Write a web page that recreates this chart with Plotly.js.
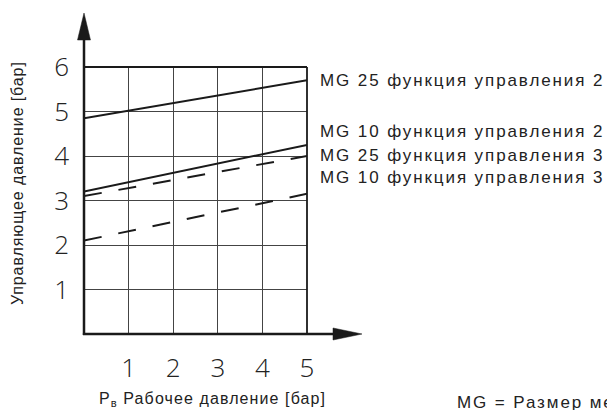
<!DOCTYPE html>
<html>
<head>
<meta charset="utf-8">
<script src="https://cdn.plot.ly/plotly-3.0.1.min.js"></script>
<style>
  html, body { margin: 0; padding: 0; background: #ffffff; }
  #chart { width: 607px; height: 410px; }
</style>
</head>
<body>
<div id="chart"></div>
<script>
// Working pressure (x) at the two ends of each characteristic line
const workPressure = [0, 5];

// Control pressure (y) for each valve size / control function
const mg25f2 = [4.85, 5.7];
const mg10f2 = [3.2, 4.25];
const mg25f3 = [3.1, 4.0];
const mg10f3 = [2.1, 3.15];

const seriesNames = [
  'MG 25 функция управления 2',
  'MG 10 функция управления 2',
  'MG 25 функция управления 3',
  'MG 10 функция управления 3'
];

const xTickVals = [1, 2, 3, 4, 5];
const xTickText = ['1', '2', '3', '4', '5'];
const yTickVals = [1, 2, 3, 4, 5, 6];
const yTickText = ['1', '2', '3', '4', '5', '6'];

const xTitle = 'P<sub>в</sub> Рабочее давление [бар]';
const yTitle = 'Управляющее давление [бар]';
const footNote = 'MG = Размер мембраны';

const ink = '#1a1a1a';
const dashed = '18px,17px';

const traces = [
  { x: workPressure, y: mg25f2, dash: 'solid' },
  { x: workPressure, y: mg10f2, dash: 'solid' },
  { x: workPressure, y: mg25f3, dash: dashed },
  { x: workPressure, y: mg10f3, dash: dashed }
].map((s, i) => ({
  type: 'scatter',
  mode: 'lines',
  name: seriesNames[i],
  x: s.x,
  y: s.y,
  line: { color: ink, width: 2, dash: s.dash },
  hoverinfo: 'skip'
}));

// wide-set sans-serif for the captions
const spaced = (t, px) => '<span style="letter-spacing:' + px + 'px">' + t + '</span>';

const labelFont = { family: 'Liberation Sans, Arial, sans-serif', size: 17, color: '#222' };
const titleFont = { family: 'Liberation Sans, Arial, sans-serif', size: 16, color: '#222' };
const tickFont = { family: 'Open Sans, sans-serif', size: 26, color: '#222', weight: 300 };

// series labels to the right of the grid, one per line
const labelY = [0.9513, 0.7566, 0.6704, 0.5843];
const annotations = seriesNames.map((t, i) => ({
  text: spaced(t, 1.9), xref: 'paper', yref: 'paper', x: 1.049, y: labelY[i],
  xanchor: 'left', yanchor: 'middle', showarrow: false, font: labelFont
}));

annotations.push(
  { text: spaced(xTitle, 1.1), xref: 'paper', yref: 'paper', x: 0.058, y: -0.247,
    xanchor: 'left', yanchor: 'middle', showarrow: false, font: titleFont },
  { text: spaced(yTitle, 0.9), xref: 'paper', yref: 'paper', x: -0.30, y: 0.5655,
    xanchor: 'center', yanchor: 'middle', textangle: -90, showarrow: false, font: titleFont },
  { text: spaced(footNote, 1.9), xref: 'paper', yref: 'paper', x: 1.6637, y: -0.2547,
    xanchor: 'left', yanchor: 'middle', showarrow: false, font: labelFont }
);

// axes with arrowheads, plus the closing top/right border of the grid
const shapes = [
  { type: 'line', xref: 'paper', yref: 'paper', x0: 0, x1: 0, y0: -0.004, y1: 1.105,
    line: { color: ink, width: 2.5 } },
  { type: 'path', xref: 'paper', yref: 'paper',
    path: 'M -0.0291 1.1011 L 0.0291 1.1011 L 0 1.2022 Z',
    fillcolor: ink, line: { color: ink, width: 0.5 } },
  { type: 'line', xref: 'paper', yref: 'paper', x0: -0.005, x1: 1.12, y0: 0, y1: 0,
    line: { color: ink, width: 2.5 } },
  { type: 'path', xref: 'paper', yref: 'paper',
    path: 'M 1.1166 0.0225 L 1.1166 -0.0225 L 1.2466 0 Z',
    fillcolor: ink, line: { color: ink, width: 0.5 } },
  { type: 'line', xref: 'paper', yref: 'paper', x0: 0, x1: 1, y0: 1, y1: 1,
    line: { color: ink, width: 1.8 } },
  { type: 'line', xref: 'paper', yref: 'paper', x0: 1, x1: 1, y0: 0, y1: 1,
    line: { color: ink, width: 1.8 } }
];

const layout = {
  width: 607,
  height: 410,
  margin: { l: 84, r: 300, t: 67, b: 76, pad: 0 },
  paper_bgcolor: '#ffffff',
  plot_bgcolor: '#ffffff',
  showlegend: false,
  xaxis: {
    range: [0, 5], fixedrange: true,
    tickmode: 'array', tickvals: xTickVals, ticktext: xTickText,
    ticks: '', ticklabelstandoff: 16, tickfont: tickFont,
    showgrid: true, gridcolor: '#444', gridwidth: 1,
    zeroline: false, showline: false
  },
  yaxis: {
    range: [0, 6], fixedrange: true,
    tickmode: 'array', tickvals: yTickVals, ticktext: yTickText,
    ticks: '', ticklabelstandoff: 14, tickfont: tickFont,
    showgrid: true, gridcolor: '#444', gridwidth: 1,
    zeroline: false, showline: false
  },
  shapes: shapes,
  annotations: annotations
};

Plotly.newPlot('chart', traces, layout, { staticPlot: true, displayModeBar: false });
</script>
</body>
</html>
